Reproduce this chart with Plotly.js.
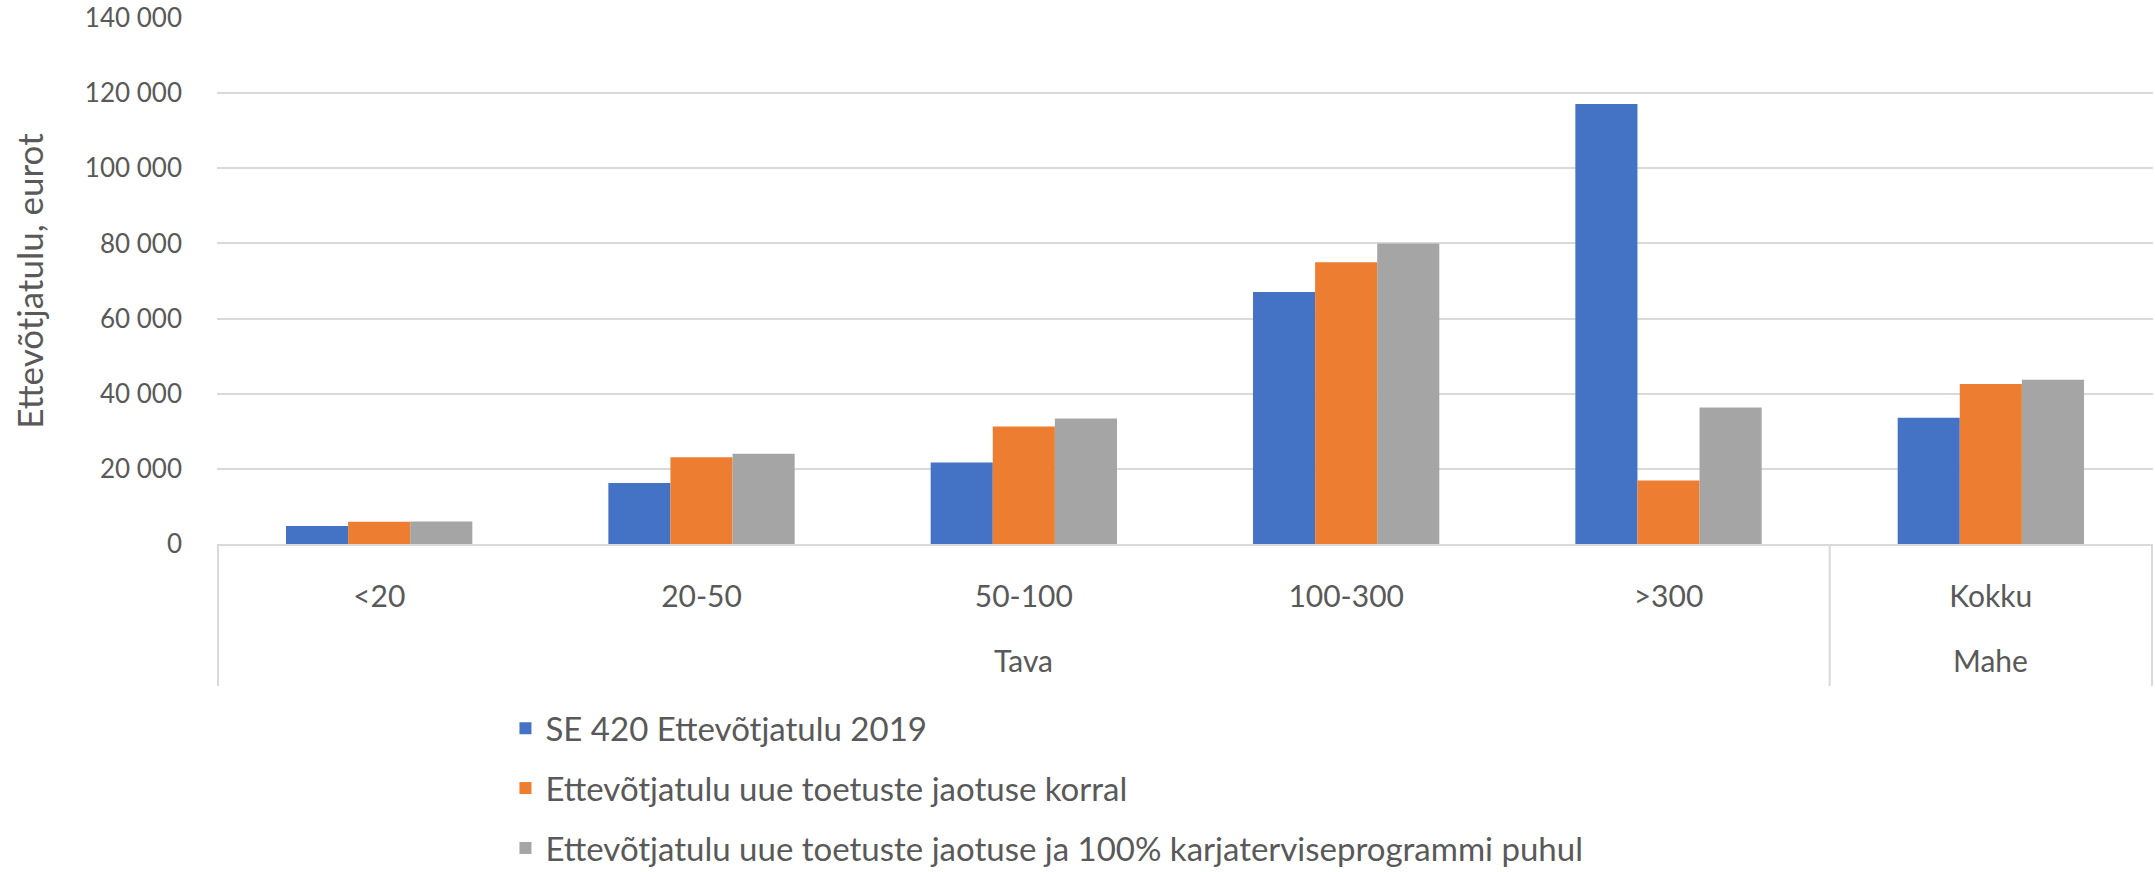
<!DOCTYPE html>
<html>
<head>
<meta charset="utf-8">
<script src="https://cdn.plot.ly/plotly-3.0.1.min.js"></script>
<style>html,body{margin:0;padding:0;background:#fff;}#chart{width:2155px;height:872px;}</style>
</head>
<body>
<div id="chart"></div>
<script>
// Data
const groups = ["Tava", "Tava", "Tava", "Tava", "Tava", "Mahe"];
const categories = ["<20", "20-50", "50-100", "100-300", ">300", "Kokku"];
const seriesNames = [
  "SE 420 Ettevõtjatulu 2019",
  "Ettevõtjatulu uue toetuste jaotuse korral",
  "Ettevõtjatulu uue toetuste jaotuse ja 100% karjaterviseprogrammi puhul"
];
const se420 = [4800, 16250, 21700, 67100, 117100, 33600];
const uueJaotus = [5900, 23100, 31250, 75000, 16900, 42600];
const uueJaotus100 = [6000, 24000, 33400, 80000, 36350, 43700];
const colors = ["#4472C4", "#ED7D31", "#A5A5A5"];
const yTitle = "Ettevõtjatulu, eurot";

const fontFam = "Lato, 'Open Sans', sans-serif";
const textColor = "#595959";
const lineColor = "#d9d9d9";
const values = [se420, uueJaotus, uueJaotus100];

const traces = values.map((v, i) => ({
  type: "bar",
  name: seriesNames[i],
  x: categories,
  y: v,
  marker: { color: colors[i], line: { width: 0 } },
  legendgroup: "g" + i,
  hoverinfo: "y+name"
}));

// Group spans (outer category level) derived from the groups array
const spans = [];
groups.forEach((g, i) => {
  if (spans.length && spans[spans.length - 1].name === g) spans[spans.length - 1].end = i;
  else spans.push({ name: g, start: i, end: i });
});

const dividerBottom = -0.27; // in paper fraction below the axis
const shapes = [];
const bounds = [spans[0].start - 0.5].concat(spans.map(s => s.end + 0.5));
bounds.forEach(b => shapes.push({
  type: "line", xref: "x", yref: "paper",
  x0: b, x1: b, y0: 0, y1: dividerBottom,
  line: { color: lineColor, width: 2 }, layer: "above"
}));

const annotations = spans.map(s => ({
  xref: "x", yref: "paper",
  x: (s.start + s.end) / 2, y: 0,
  yanchor: "middle", xanchor: "center",
  yshift: -116,
  text: s.name, showarrow: false,
  font: { family: fontFam, size: 30, color: textColor }
}));

const layout = {
  width: 2155,
  height: 872,
  paper_bgcolor: "#ffffff",
  plot_bgcolor: "#ffffff",
  separators: ", ",
  margin: { l: 217, r: 2, t: 18, b: 328, pad: 0 },
  barmode: "group",
  bargap: 0.422,
  bargroupgap: 0,
  font: { family: fontFam, color: textColor, size: 26 },
  xaxis: {
    type: "category",
    showline: true,
    linecolor: lineColor,
    linewidth: 2,
    showgrid: false,
    zeroline: false,
    ticks: "",
    tickfont: { family: fontFam, size: 30, color: textColor },
    ticklabelstandoff: 25,
    automargin: false
  },
  yaxis: {
    range: [0, 140000],
    dtick: 20000,
    tick0: 0,
    tickformat: ",d",
    showgrid: true,
    gridcolor: lineColor,
    gridwidth: 2,
    zeroline: false,
    showline: false,
    ticks: "",
    ticklabelstandoff: 34,
    automargin: false,
    tickfont: { family: fontFam, size: 26, color: textColor },
    title: { text: yTitle, font: { family: fontFam, size: 35, color: textColor }, standoff: 30 }
  },
  shapes: shapes,
  annotations: annotations,
  showlegend: true,
  legend: {
    orientation: "v",
    xref: "paper",
    yref: "container",
    x: 0.149,
    xanchor: "left",
    y: 0.197,
    yanchor: "top",
    traceorder: "grouped",
    tracegroupgap: 14,
    font: { family: fontFam, size: 33, color: textColor },
    bgcolor: "rgba(0,0,0,0)",
    itemclick: false
  }
};

Plotly.newPlot("chart", traces, layout, { displayModeBar: false, staticPlot: true });
</script>
</body>
</html>
